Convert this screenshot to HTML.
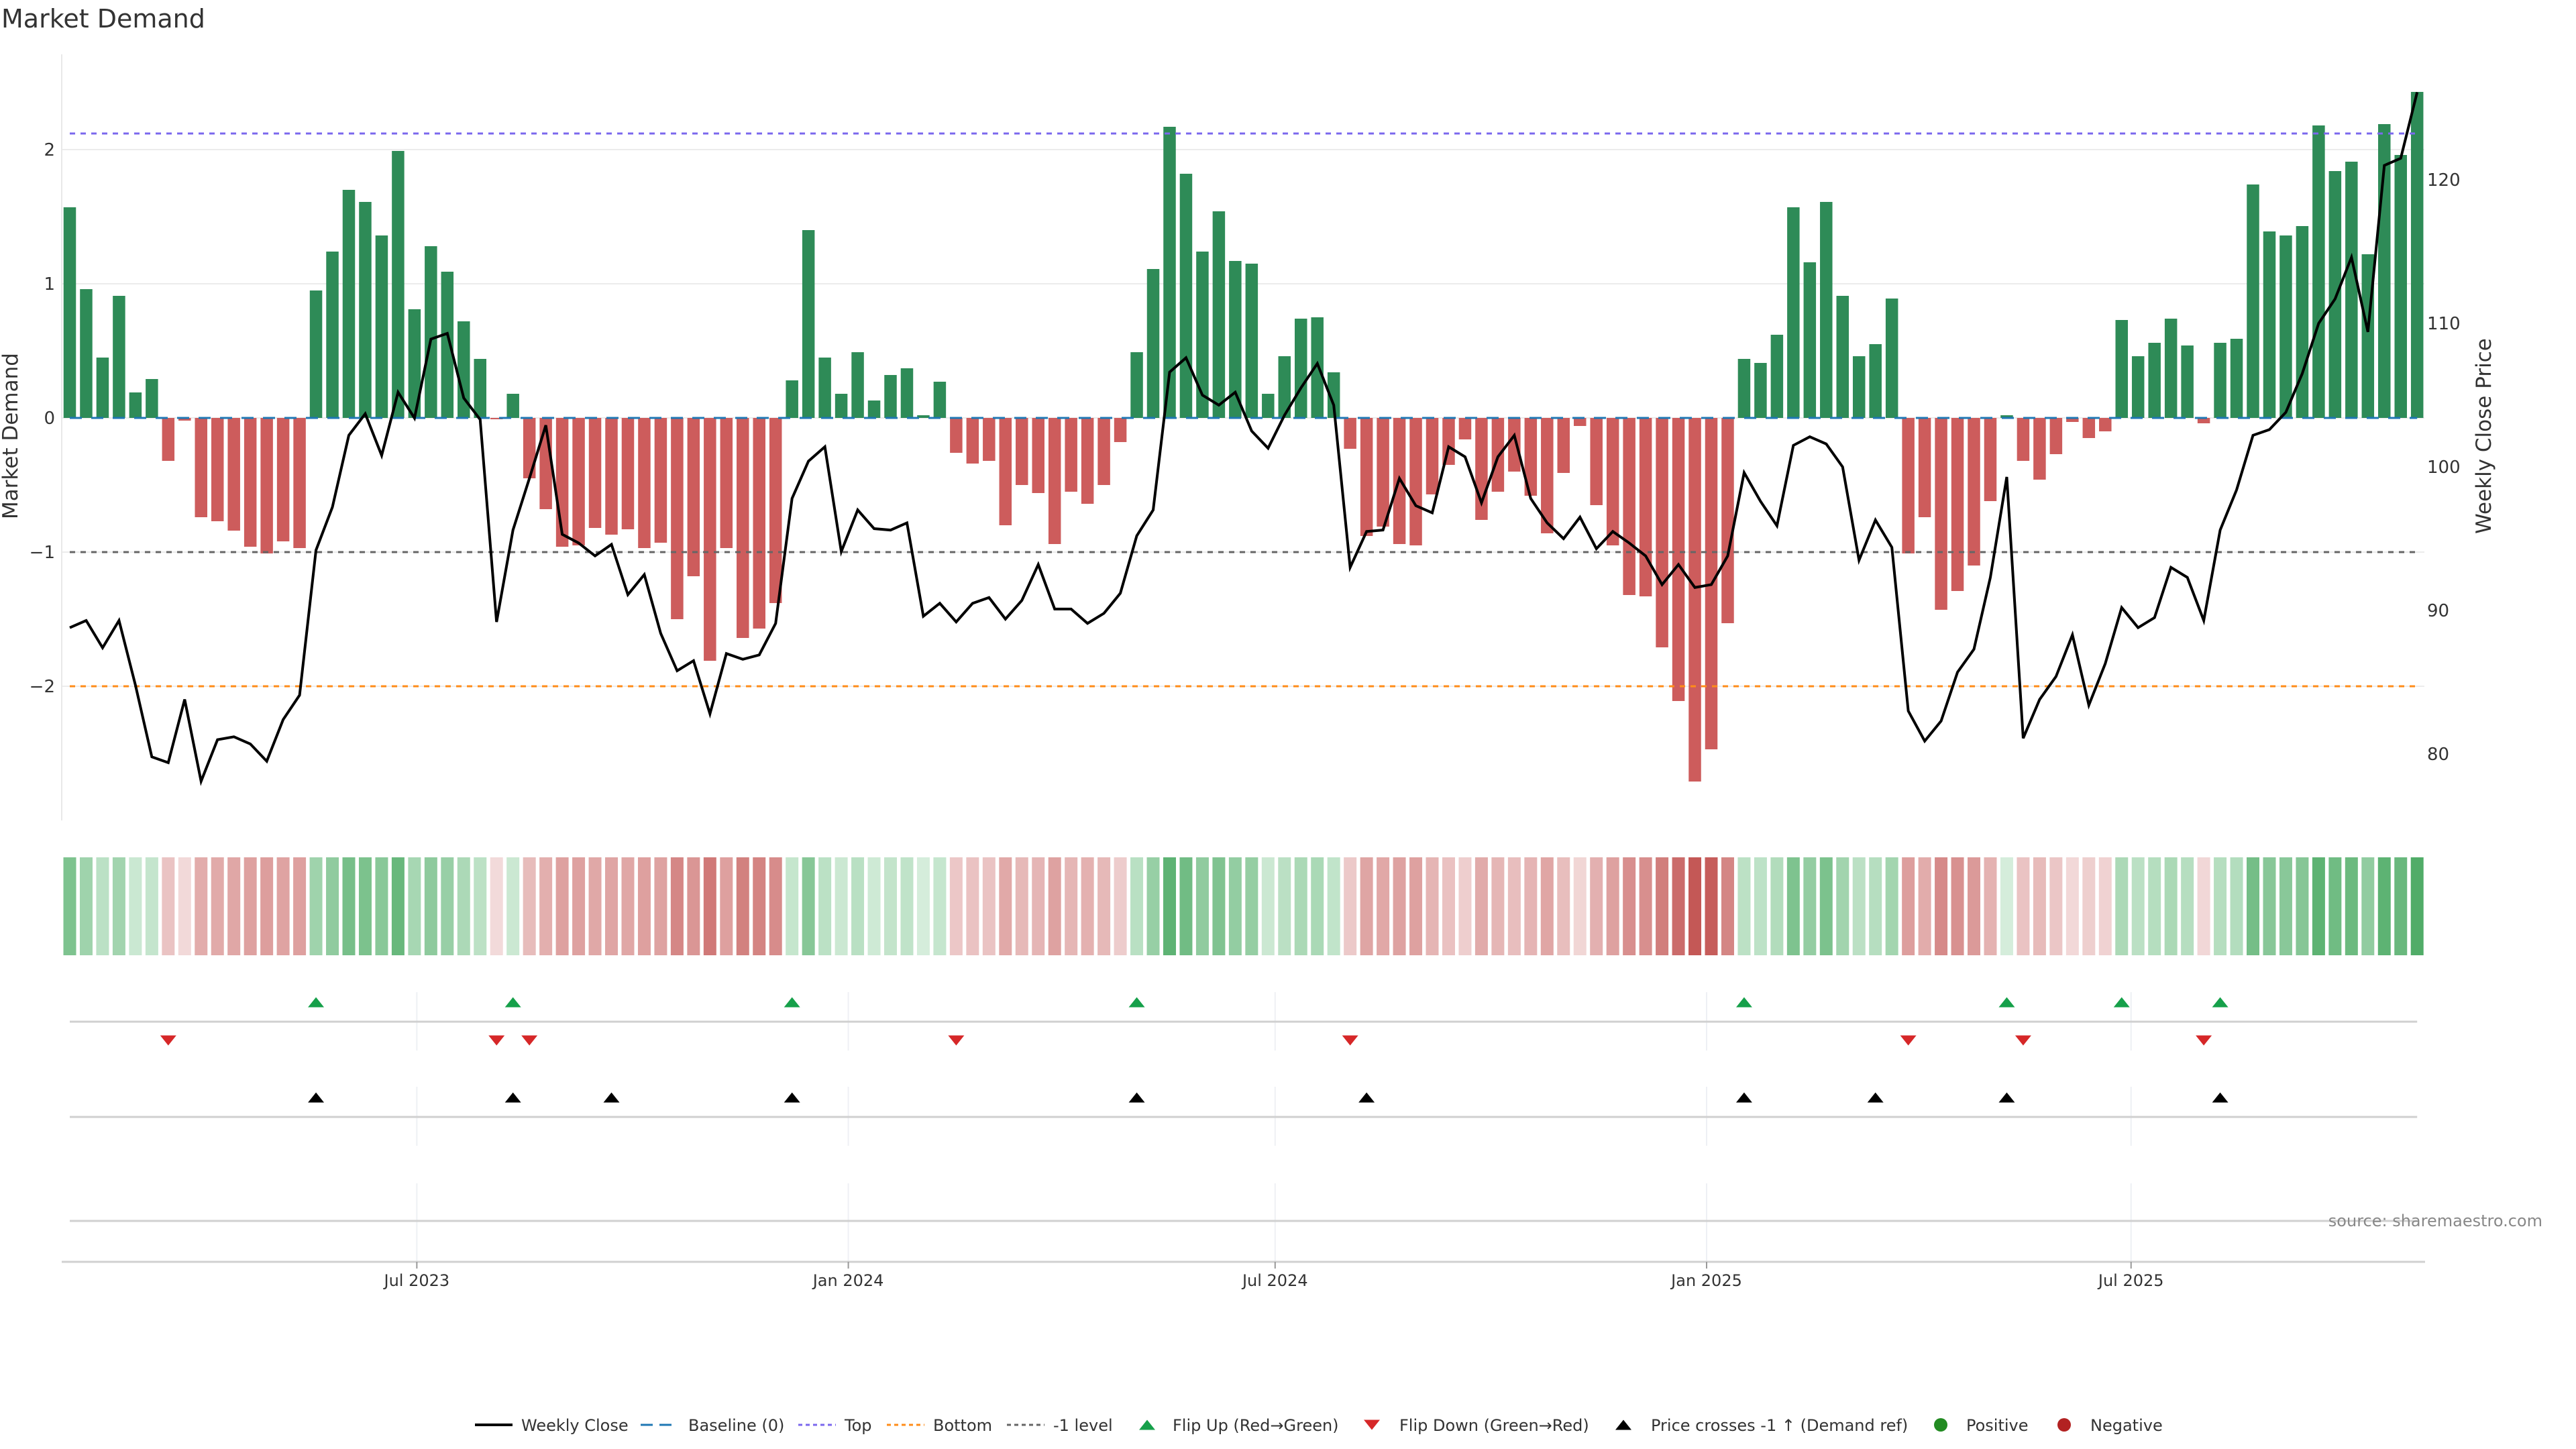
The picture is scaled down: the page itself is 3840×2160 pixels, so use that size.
<!DOCTYPE html>
<html><head><meta charset="utf-8"><title>Market Demand</title>
<style>
html,body{margin:0;padding:0;background:#fff;}
svg{display:block;font-family:"DejaVu Sans","Liberation Sans",sans-serif;}
</style></head>
<body>
<svg id="chart" width="3840" height="2160" viewBox="0 0 3840 2160" xmlns="http://www.w3.org/2000/svg">
<rect width="3840" height="2160" fill="#fff"/>
<text x="2" y="41" font-size="38" fill="#333">Market Demand</text>
<g id="grid"></g><g id="main"></g><g id="heat"></g><g id="panels"></g><g id="axes"></g><g id="legend"></g>
<text x="3790" y="1828" font-size="24" fill="#888" text-anchor="end">source: sharemaestro.com</text>
</svg>
<script>
const demand = [1.57,0.96,0.45,0.91,0.19,0.29,-0.32,-0.02,-0.74,-0.77,-0.84,-0.96,-1.01,-0.92,-0.97,0.95,1.24,1.70,1.61,1.36,1.99,0.81,1.28,1.09,0.72,0.44,-0.01,0.18,-0.45,-0.68,-0.96,-0.95,-0.82,-0.87,-0.83,-0.97,-0.93,-1.50,
-1.18,-1.81,-0.97,-1.64,-1.57,-1.38,0.28,1.40,0.45,0.18,0.49,0.13,0.32,0.37,0.02,0.27,-0.26,-0.34,-0.32,-0.80,-0.50,-0.56,-0.94,-0.55,-0.64,-0.50,-0.18,0.49,1.11,2.17,1.82,1.24,1.54,1.17,1.15,0.18,
0.46,0.74,0.75,0.34,-0.23,-0.88,-0.81,-0.94,-0.95,-0.57,-0.35,-0.16,-0.76,-0.55,-0.40,-0.58,-0.86,-0.41,-0.06,-0.65,-0.95,-1.32,-1.33,-1.71,-2.11,-2.71,-2.47,-1.53,0.44,0.41,0.62,1.57,1.16,1.61,0.91,0.46,0.55,
0.89,-1.01,-0.74,-1.43,-1.29,-1.10,-0.62,0.02,-0.32,-0.46,-0.27,-0.03,-0.15,-0.10,0.73,0.46,0.56,0.74,0.54,-0.04,0.56,0.59,1.74,1.39,1.36,1.43,2.18,1.84,1.91,1.22,2.19,1.96,2.43];
const price = [88.8,89.3,87.4,89.3,84.8,79.8,79.4,83.8,78.1,81.0,81.2,80.7,79.5,82.4,84.1,94.2,97.2,102.2,103.7,100.8,105.2,103.4,108.9,109.3,104.8,103.3,89.2,95.6,99.2,102.9,95.3,94.7,93.8,94.6,91.1,92.5,88.4,85.8,
86.5,82.8,87.0,86.6,86.9,89.1,97.8,100.4,101.4,94.1,97.0,95.7,95.6,96.1,89.6,90.5,89.2,90.5,90.9,89.4,90.7,93.2,90.1,90.1,89.1,89.8,91.2,95.2,97.0,106.6,107.6,105.0,104.3,105.2,102.5,101.3,
103.6,105.5,107.2,104.3,93.0,95.5,95.6,99.2,97.3,96.8,101.4,100.7,97.5,100.7,102.2,97.8,96.1,95.0,96.5,94.3,95.5,94.7,93.8,91.8,93.2,91.6,91.8,93.8,99.6,97.6,95.9,101.5,102.1,101.6,100.0,93.5,96.3,
94.4,83.0,80.9,82.3,85.7,87.3,92.3,99.3,81.1,83.8,85.4,88.3,83.4,86.3,90.2,88.8,89.5,93.0,92.3,89.3,95.6,98.4,102.2,102.6,103.8,106.5,110.0,111.7,114.6,109.4,121.0,121.5,126.1];
const demandTicks = [-2,-1,0,1,2];
const priceTicks = [80,90,100,110,120];
const levels = {top:2.12, bottom:-2.0, minus1:-1.0};
const priceRef = 94.0;
const startDate = "2023-02-03";
const dateTicks = ["2023-07-01","2024-01-01","2024-07-01","2025-01-01","2025-07-01"];
const dateTickLabels = ["Jul 2023","Jan 2024","Jul 2024","Jan 2025","Jul 2025"];

const NS="http://www.w3.org/2000/svg";
function mk(tag,attrs,parent){const e=document.createElementNS(NS,tag);for(const k in attrs)e.setAttribute(k,attrs[k]);if(parent)parent.appendChild(e);return e;}
const X0=104, DX=24.47, BW=18.5;
const xIdx=i=>X0+i*DX;
const yD=v=>623-v*200;
const yP=p=>268+(120-p)*21.4;
const d0=new Date(startDate+"T00:00:00Z").getTime();
const xDate=s=>xIdx((new Date(s+"T00:00:00Z").getTime()-d0)/(7*864e5));
const N=demand.length, XR=xIdx(N-1);

const grid=document.getElementById('grid'), main=document.getElementById('main'), heat=document.getElementById('heat'), panels=document.getElementById('panels'), axes=document.getElementById('axes'), legend=document.getElementById('legend');

demandTicks.forEach(t=>{
  const l=mk('line',{x1:92,x2:3614,y1:yD(t),y2:yD(t),stroke:'#ececec','stroke-width':2},grid);
  
  
  const tx=mk('text',{x:82,y:yD(t)+9,'font-size':26,fill:'#333','text-anchor':'end'},axes);
  tx.textContent=t<0?'\u2212'+Math.abs(t):String(t);
  
  
});
priceTicks.forEach(t=>{
  const tx=mk('text',{x:3618,y:yP(t)+9,'font-size':26,fill:'#333'},axes);
  tx.textContent=String(t);
  
  
});
let sp=mk('line',{x1:92,x2:92,y1:81,y2:1223,stroke:'#e8e8e8','stroke-width':2},axes);


let yl=mk('text',{x:0,y:0,'font-size':31,fill:'#333','text-anchor':'middle',transform:'translate(26,650) rotate(-90)'},axes);
yl.textContent='Market Demand';


let yr=mk('text',{x:0,y:0,'font-size':31,fill:'#333','text-anchor':'middle',transform:'translate(3713,650) rotate(-90)'},axes);
yr.textContent='Weekly Close Price';



demand.forEach((v,i)=>{
  const y=v>=0?yD(v):yD(0), h=Math.max(Math.abs(yD(v)-yD(0)),1);
  const r=mk('rect',{x:xIdx(i)-BW/2,y:y,width:BW,height:h,fill:v>=0?'#2e8b57':'#cd5c5c'},main);
  
  
});
function hline(y,color,dash,name){const l=mk('line',{x1:X0,x2:XR,y1:y,y2:y,stroke:color,'stroke-width':3,'stroke-dasharray':dash},main);
  
  }
hline(yD(0),'#1f77b4','18 14','baseline-line');
hline(yD(levels.top),'#7b68ee','8 8','top-line');
hline(yD(levels.bottom),'#ff8c1a','8 8','bottom-line');
hline(yD(levels.minus1),'#666','8 8','minus1-line');
const pl=mk('polyline',{points:price.map((p,i)=>xIdx(i)+','+yP(p)).join(' '),fill:'none',stroke:'#000','stroke-width':4,'stroke-linejoin':'miter'},main);



function lerp(a,b,t){return a.map((v,k)=>Math.round(v+(b[k]-v)*t));}
demand.forEach((v,i)=>{
  const t=Math.min(Math.abs(v)/2.6,1);
  const c=v>=0?lerp([214,238,220],[72,168,96],Math.pow(t,0.95)):lerp([243,220,220],[196,88,86],Math.pow(t,0.8));
  const r=mk('rect',{x:xIdx(i)-9.5,y:1278,width:19,height:146,fill:'rgb('+c.join(',')+')'},heat);
  
  
});

dateTicks.forEach((d,k)=>{
  const x=xDate(d);
  [[1479,1566],[1620,1708],[1764,1880]].forEach(s=>{
    const l=mk('line',{x1:x,x2:x,y1:s[0],y2:s[1],stroke:'#eef0f4','stroke-width':2},panels);
    
    
  });
  const tk=mk('line',{x1:x,x2:x,y1:1881,y2:1891,stroke:'#999','stroke-width':2},axes);
  
  
  const tx=mk('text',{x:x,y:1917,'font-size':24,fill:'#333','text-anchor':'middle'},axes);
  tx.textContent=dateTickLabels[k];
  
  
});
[[1523,X0,XR],[1665,X0,XR],[1820,X0,XR],[1881,92,3615]].forEach(s=>{
  const l=mk('line',{x1:s[1],x2:s[2],y1:s[0],y2:s[0],stroke:'#d0d0d0','stroke-width':3},panels);
  
  
});
function tri(x,y,up,color,parent){const w=12,h=15;
  const pts=up?[x-w,y+h/2,x+w,y+h/2,x,y-h/2]:[x-w,y-h/2,x+w,y-h/2,x,y+h/2];
  return mk('polygon',{points:pts.join(' '),fill:color},parent);}
for(let i=1;i<N;i++){
  if(demand[i-1]<0&&demand[i]>=0){const t=tri(xIdx(i),1494,true,'#16a04a',panels);
    
    }
  if(demand[i-1]>=0&&demand[i]<0){const t=tri(xIdx(i),1551,false,'#d62728',panels);
    
    }
  if(price[i-1]<priceRef&&price[i]>=priceRef){const t=tri(xIdx(i),1636,true,'#000',panels);
    
    }
}

const LY=2124;
function ltext(x,s,name){const t=mk('text',{x:x,y:LY+9,'font-size':24,fill:'#333'},legend);t.textContent=s;
  
  }
function lline(x,color,dash,w){mk('line',{x1:x,x2:x+56,y1:LY,y2:LY,stroke:color,'stroke-width':w,'stroke-dasharray':dash},legend);}
lline(708,'#000','none',4); ltext(777,'Weekly Close','legend-weekly-close');
lline(955,'#1f77b4','18 10',3); ltext(1026,'Baseline (0)','legend-baseline');
lline(1190,'#7b68ee','6 5',3); ltext(1259,'Top','legend-top');
lline(1322,'#ff8c1a','6 5',3); ltext(1391,'Bottom','legend-bottom');
lline(1501,'#666','6 5',3); ltext(1570,'-1 level','legend-minus1');
tri(1710,LY,true,'#16a04a',legend); ltext(1748,'Flip Up (Red\u2192Green)','legend-flip-up');
tri(2045,LY,false,'#d62728',legend); ltext(2086,'Flip Down (Green\u2192Red)','legend-flip-down');
tri(2420,LY,true,'#000',legend); ltext(2461,'Price crosses -1 \u2191 (Demand ref)','legend-price-cross');
mk('circle',{cx:2893,cy:LY,r:10,fill:'#228b22'},legend); ltext(2931,'Positive','legend-positive');
mk('circle',{cx:3077,cy:LY,r:10,fill:'#b22222'},legend); ltext(3116,'Negative','legend-negative');
</script>
</body></html>
